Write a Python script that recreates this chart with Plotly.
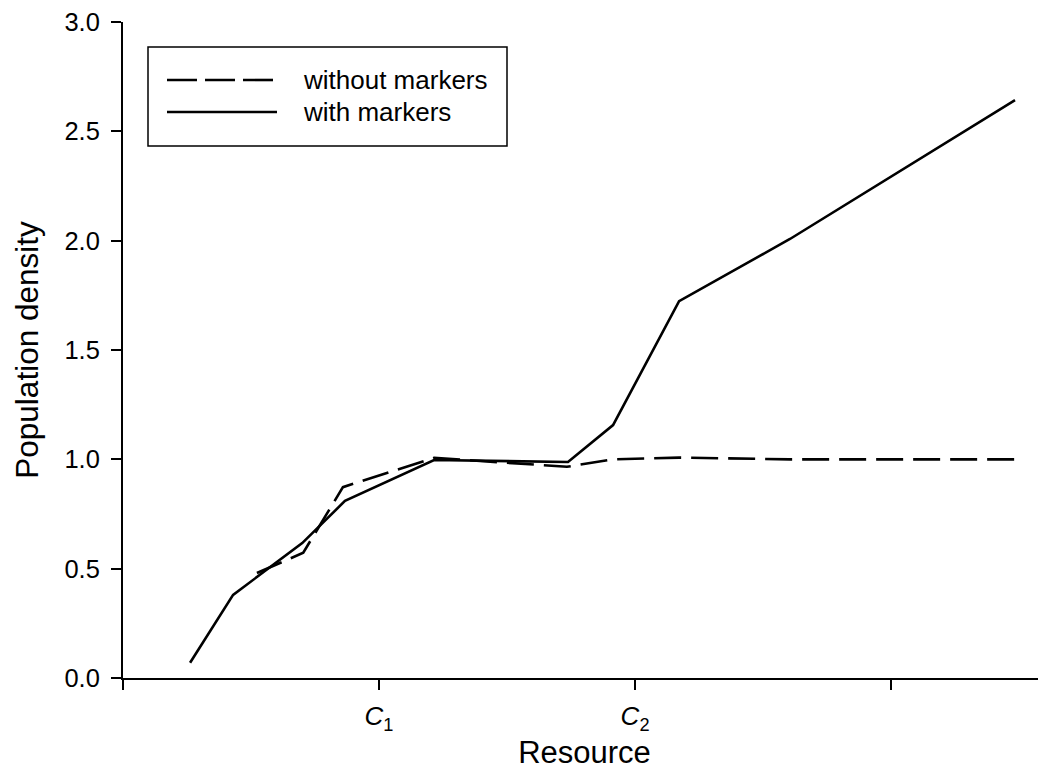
import plotly.graph_objects as go

# Resource axis positions (tick units: 1 = C1, 2 = C2)
x_with = [0.262, 0.430, 0.700, 0.867, 1.215, 1.738, 1.914, 2.172, 2.605, 3.484]
y_with = [0.070, 0.380, 0.617, 0.810, 0.997, 0.988, 1.157, 1.724, 2.008, 2.643]

x_without = [0.523, 0.704, 0.859, 1.215, 1.734, 1.913, 2.172, 2.605, 3.484]
y_without = [0.480, 0.573, 0.873, 1.007, 0.966, 1.000, 1.008, 1.000, 1.000]

series_names = ["without markers", "with markers"]

x_tickvals = [1, 2]
x_ticktext = ["<i>C</i><sub>1</sub>", "<i>C</i><sub>2</sub>"]
x_minor_tickvals = [0, 3]
y_tickvals = [0, 0.5, 1.0, 1.5, 2.0, 2.5, 3.0]
y_ticktext = ["0.0", "0.5", "1.0", "1.5", "2.0", "2.5", "3.0"]

FONT = "Liberation Sans, Arial, sans-serif"
OFF = 8  # page body margin
W, H = 1046 - OFF, 773 - OFF
ML, MR, MT, MB = 123 - OFF, 0, 22 - OFF, 95
PW, PH = W - ML - MR, H - MT - MB

def px(xp):
    return (xp - OFF - ML) / PW

def py(yp):
    return (OFF + H - MB - yp) / PH

DASH_DATA = "27px,10px"
DASH_LEG = "30px,8px"

fig = go.Figure()
fig.add_trace(go.Scatter(
    x=x_without, y=y_without, mode="lines", name=series_names[0],
    line=dict(color="black", width=2.6, dash=DASH_DATA), showlegend=False,
))
fig.add_trace(go.Scatter(
    x=x_with, y=y_with, mode="lines", name=series_names[1],
    line=dict(color="black", width=2.6), showlegend=False,
))

# legend box drawn as shapes + text annotations
shapes = [
    dict(type="rect", xref="paper", yref="paper",
         x0=px(148), x1=px(507), y0=py(146), y1=py(47),
         line=dict(color="black", width=1.5), fillcolor="white", layer="above"),
    dict(type="line", xref="paper", yref="paper",
         x0=px(167), x1=px(277), y0=py(80), y1=py(80),
         line=dict(color="black", width=2.6, dash=DASH_LEG), layer="above"),
    dict(type="line", xref="paper", yref="paper",
         x0=px(167), x1=px(277), y0=py(112), y1=py(112),
         line=dict(color="black", width=2.6), layer="above"),
]
annotations = [
    dict(xref="paper", yref="paper", x=px(301), y=py(80), text=series_names[0],
         showarrow=False, xanchor="left", yanchor="middle", font=dict(size=26)),
    dict(xref="paper", yref="paper", x=px(301), y=py(112), text=series_names[1],
         showarrow=False, xanchor="left", yanchor="middle", font=dict(size=26)),
]

fig.update_layout(
    width=W, height=H,
    margin=dict(l=ML, r=MR, t=MT, b=MB, autoexpand=False),
    paper_bgcolor="white", plot_bgcolor="white",
    font=dict(family=FONT, color="black", size=25),
    showlegend=False,
    shapes=shapes, annotations=annotations,
    xaxis=dict(
        range=[0, 3.605], tickmode="array", tickvals=x_tickvals, ticktext=x_ticktext,
        showgrid=False, zeroline=False, showline=True, linecolor="black", linewidth=2,
        ticks="outside", ticklen=10, tickwidth=2, tickcolor="black", automargin=False,
        minor=dict(tickmode="array", tickvals=x_minor_tickvals, ticks="outside",
                   ticklen=10, tickwidth=2, tickcolor="black", showgrid=False),
        tickfont=dict(size=26), ticklabelstandoff=4,
        title=dict(text="Resource", font=dict(size=31), standoff=4),
    ),
    yaxis=dict(
        range=[0, 3.0005], tickmode="array", tickvals=y_tickvals, ticktext=y_ticktext,
        showgrid=False, zeroline=False, showline=True, linecolor="black", linewidth=2,
        ticks="outside", ticklen=10, tickwidth=2, tickcolor="black", automargin=False,
        tickfont=dict(size=25.5), ticklabelstandoff=6,
        title=dict(text="Population density", font=dict(size=31.5), standoff=16),
    ),
)

fig.write_html("out.html")
